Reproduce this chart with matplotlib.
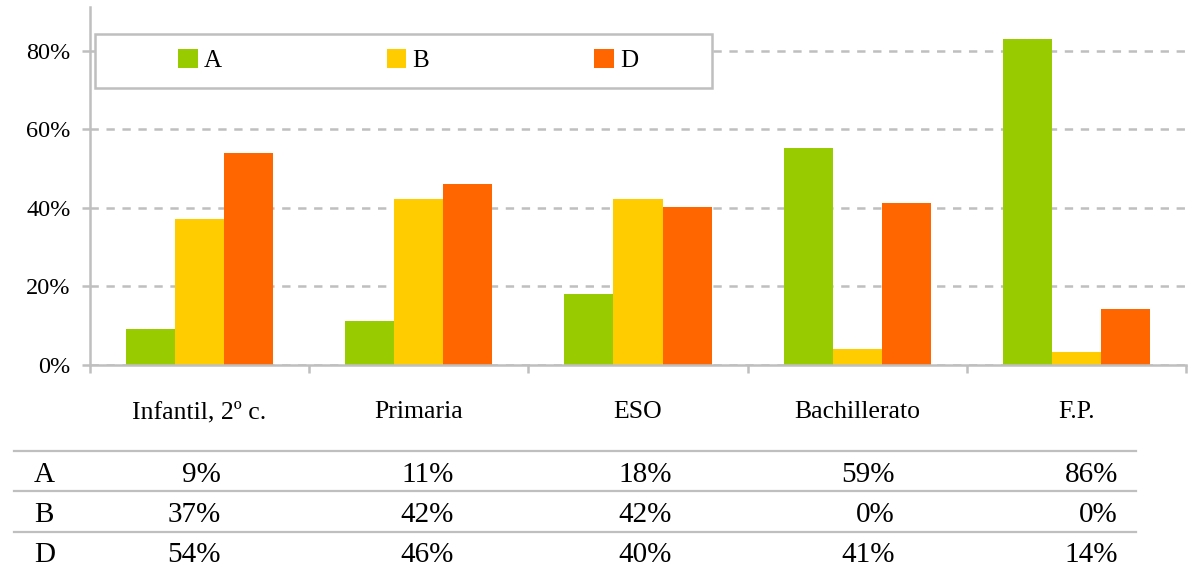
import numpy as np
import matplotlib
matplotlib.use("Agg")
import matplotlib.pyplot as plt
import matplotlib.transforms as mtransforms
from matplotlib.patches import Rectangle
from matplotlib.lines import Line2D

# datos del gráfico
categories = ["Infantil, 2º c.", "Primaria", "ESO", "Bachillerato", "F.P."]
series_names = ["A", "B", "D"]
bar_a = [9.2, 11.2, 18.1, 55.2, 83.1]
bar_b = [37.2, 42.3, 42.3, 4.1, 3.2]
bar_d = [54.0, 46.1, 40.3, 41.3, 14.2]
table_a = ["9%", "11%", "18%", "59%", "86%"]
table_b = ["37%", "42%", "42%", "0%", "0%"]
table_d = ["54%", "46%", "40%", "41%", "14%"]
y_ticks = [0, 20, 40, 60, 80]
y_tick_labels = ["0%", "20%", "40%", "60%", "80%"]

colors = ["#99CC00", "#FFCC00", "#FF6600"]
gray = "#BFBFBF"

plt.rcParams["font.family"] = ["Liberation Serif", "DejaVu Serif"]
plt.rcParams["lines.scale_dashes"] = False

W, H = 1202, 572


def fx(x):
    return x / W


def fy(y):
    return 1 - y / H


fig = plt.figure(figsize=(W / 100, H / 100), dpi=100)
ax_left, ax_right, ax_bottom, ax_top = 90, 1186, 365, 7
ax = fig.add_axes([fx(ax_left), fy(ax_bottom), fx(ax_right) - fx(ax_left),
                   fy(ax_top) - fy(ax_bottom)])


def ax_x(px):
    return (px - ax_left) / (ax_right - ax_left)


def ax_y(py):
    return (ax_bottom - py) / (ax_bottom - ax_top)


ax.set_xlim(-0.5, 4.5)
ax.set_ylim(0, 91.2)

# barras
x = np.arange(len(categories))
width = 0.224
handles = []
for k, vals in enumerate([bar_a, bar_b, bar_d]):
    h = ax.bar(x + (k - 1) * width, vals, width, color=colors[k],
               linewidth=0, zorder=2, label=series_names[k])
    handles.append(h)

# rejilla y ejes
ax.set_axisbelow(True)
ax.yaxis.grid(True, color=gray, linewidth=1.8, linestyle=(0, (6, 5.5)))
ax.set_yticks(y_ticks)
ax.set_yticklabels(y_tick_labels)
ax.set_xticks(np.arange(-0.5, len(categories), 1))
ax.set_xticklabels([])
for s in ["top", "right"]:
    ax.spines[s].set_visible(False)
for s in ["left", "bottom"]:
    ax.spines[s].set_color(gray)
    ax.spines[s].set_linewidth(1.8)
ax.tick_params(axis="y", length=5.8, width=1.8, color=gray, pad=8,
               labelsize=17.5)
ax.tick_params(axis="x", length=5.8, width=1.8, color=gray)

# etiquetas de categoría
trans = mtransforms.blended_transform_factory(ax.transData, ax.transAxes)
for i, cat in enumerate(categories):
    ax.text(i, ax_y(418), cat, ha="center", va="baseline", fontsize=18.5,
            transform=trans)

# leyenda con marco propio
ax.add_patch(Rectangle((ax_x(95), ax_y(88)), ax_x(712) - ax_x(95),
                       ax_y(34) - ax_y(88), transform=ax.transAxes,
                       facecolor="white", edgecolor=gray, linewidth=1.8,
                       zorder=3, clip_on=False))
leg = ax.legend(handles=handles, ncol=3, frameon=False, loc="center left",
                bbox_to_anchor=(ax_x(178), ax_y(60.5)), borderpad=0,
                borderaxespad=0, handlelength=0.78, handleheight=0.78,
                handletextpad=0.25, columnspacing=6.6, fontsize=18)
leg.set_zorder(4)

# tabla de datos
for yl in [451, 491, 531.5]:
    fig.add_artist(Line2D([fx(14), fx(1136)], [fy(yl), fy(yl)],
                          transform=fig.transFigure, color=gray,
                          linewidth=1.6))
col_right = [221, 454, 672, 895, 1118]
row_base = [482, 522, 562]
for r, (name, row) in enumerate(zip(series_names, [table_a, table_b, table_d])):
    fig.text(fx(34), fy(row_base[r]), name, ha="left", va="baseline",
             fontsize=21)
    for c, val in enumerate(row):
        fig.text(fx(col_right[c]), fy(row_base[r]), val, ha="right",
                 va="baseline", fontsize=21)

fig.savefig("out.png", dpi=100)
